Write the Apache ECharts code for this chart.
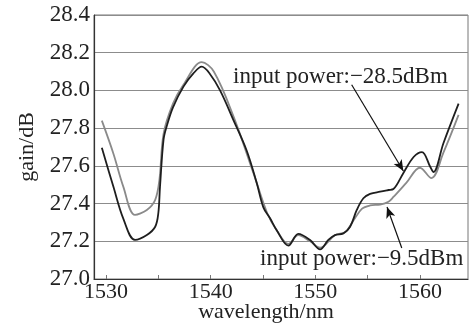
<!DOCTYPE html>
<html>
<head>
<meta charset="utf-8">
<script src="https://cdn.jsdelivr.net/npm/echarts@6/dist/echarts.min.js"></script>
<style>
  html, body { margin: 0; padding: 0; background: #fff; }
  #chart { width: 470px; height: 324px; }
</style>
</head>
<body>
<div id="chart"></div>
<script>
// input power -28.5 dBm (dark curve)
const darkWl = [1529.6, 1530.7, 1531.65, 1532.77, 1533.9, 1534.7, 1535.0, 1535.16, 1535.5, 1535.8, 1536.4, 1537.4,
  1538.35, 1539.15, 1539.9, 1540.9, 1542.2, 1543.45, 1544.4, 1545.04, 1545.68, 1546.3, 1547.43, 1548.38, 1549.5,
  1550.46, 1551.25, 1551.89, 1552.69, 1553.33, 1553.97, 1554.6, 1555.24, 1556.2, 1557.0, 1557.47, 1558.4, 1559.4,
  1560.2, 1561.0, 1561.3, 1562.25, 1563.7];
const darkGain = [27.696, 27.49, 27.32, 27.207, 27.233, 27.277, 27.35, 27.49, 27.74, 27.81, 27.91, 28.02,
  28.09, 28.126, 28.09, 28.0, 27.84, 27.68, 27.51, 27.38, 27.322, 27.26, 27.177, 27.239, 27.207,
  27.157, 27.207, 27.233, 27.242, 27.277, 27.366, 27.428, 27.451, 27.463, 27.472, 27.477, 27.56, 27.647,
  27.673, 27.594, 27.567, 27.72, 27.93];

// input power -9.5 dBm (grey curve)
const greyWl = [1529.6, 1530.7, 1531.65, 1532.77, 1533.9, 1534.7, 1535.1, 1535.5, 1536.4, 1537.4, 1539.15,
  1540.3, 1542.2, 1544.1, 1545.4, 1546.3, 1547.43, 1548.38, 1549.5, 1550.46, 1551.89, 1552.88, 1553.65,
  1554.45, 1555.24, 1556.2, 1557.0, 1557.47, 1558.7, 1560.0, 1561.1, 1562.25, 1563.7];
const greyGain = [27.84, 27.666, 27.49, 27.34, 27.366, 27.42, 27.525, 27.77, 27.93, 28.03, 28.15,
  28.10, 27.86, 27.56, 27.35, 27.26, 27.186, 27.233, 27.2, 27.166, 27.233, 27.25, 27.31,
  27.372, 27.39, 27.395, 27.41, 27.435, 27.51, 27.59, 27.535, 27.67, 27.87];

const xTicks = [1530, 1535, 1540, 1545, 1550, 1555, 1560];
const xLabels = [1530, 1540, 1550, 1560];

const FONT = '"Liberation Serif", "DejaVu Serif", serif';
const zip = (xs, ys) => xs.map((x, i) => [x, ys[i]]);

const chart = echarts.init(document.getElementById('chart'));
chart.setOption({
  backgroundColor: '#fff',
  animation: false,
  textStyle: { fontFamily: FONT },
  grid: {
    left: 94, right: 2, top: 15, bottom: 45,
    outerBoundsMode: 'none',
    show: true, borderColor: '#777', borderWidth: 1
  },
  xAxis: {
    type: 'value',
    min: 1528.85,
    max: 1564.6,
    name: 'wavelength/nm',
    nameLocation: 'middle',
    nameGap: 22,
    nameMoveOverlap: false,
    nameTextStyle: { fontFamily: FONT, fontSize: 22, color: '#222', padding: [0, 30, 0, 0] },
    axisLine: { show: true, lineStyle: { color: '#333', width: 1.2 } },
    axisTick: { show: true, inside: true, length: 4, customValues: xTicks, lineStyle: { color: '#777' } },
    axisLabel: { customValues: xLabels, fontFamily: FONT, fontSize: 22, color: '#222', margin: 2, formatter: v => String(v) },
    splitLine: { show: false }
  },
  yAxis: {
    type: 'value',
    min: 27.0,
    max: 28.4,
    interval: 0.2,
    name: 'gain/dB',
    nameLocation: 'middle',
    nameGap: 56,
    nameMoveOverlap: false,
    nameTextStyle: { fontFamily: FONT, fontSize: 22, color: '#222' },
    axisLine: { show: true, lineStyle: { color: '#333', width: 1.2 } },
    axisTick: { show: false },
    axisLabel: { fontFamily: FONT, fontSize: 23, color: '#222', margin: 4, formatter: v => v.toFixed(1) },
    splitLine: { show: true, lineStyle: { color: '#8c8c8c', width: 1.2 } }
  },
  series: [
    {
      name: 'input power:−9.5dBm',
      type: 'line',
      data: zip(greyWl, greyGain),
      smooth: 0.35,
      showSymbol: false,
      lineStyle: { color: '#8a8a8a', width: 1.8 }
    },
    {
      name: 'input power:−28.5dBm',
      type: 'line',
      data: zip(darkWl, darkGain),
      smooth: 0.35,
      showSymbol: false,
      lineStyle: { color: '#1e1e1e', width: 1.8 },
      markLine: {
        silent: true,
        symbol: ['none', 'arrow'],
        symbolSize: [7, 11],
        label: { show: false },
        lineStyle: { color: '#111', width: 1.2, type: 'solid' },
        data: [
          [{ coord: [1553.48, 28.03] }, { coord: [1558.42, 27.573] }],
          [{ coord: [1558.27, 27.164] }, { coord: [1556.86, 27.382] }]
        ]
      }
    }
  ],
  graphic: [
    {
      type: 'text', left: 233, top: 65,
      style: { text: 'input power:−28.5dBm', font: '23px ' + FONT, fill: '#222' }
    },
    {
      type: 'text', left: 260, top: 247,
      style: { text: 'input power:−9.5dBm', font: '23px ' + FONT, fill: '#222' }
    }
  ]
});
</script>
</body>
</html>
